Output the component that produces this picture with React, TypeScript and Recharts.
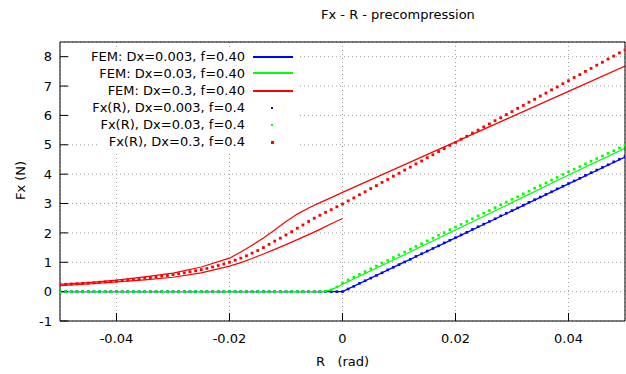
import {
    ComposedChart,
    Line,
    XAxis,
    YAxis,
    CartesianGrid,
} from "recharts";

// axis ticks
const xTicks = [-0.04, -0.02, 0, 0.02, 0.04];
const yTicks = [-1, 0, 1, 2, 3, 4, 5, 6, 7, 8];

// FEM curves (R in rad, Fx in N)
const femBlueR = [-0.05, 0, 0.01, 0.02, 0.03, 0.04, 0.05];
const femBlueF = [0, 0, 0.92, 1.83, 2.75, 3.67, 4.58];

const femGreenR = [-0.05, -0.004, -0.003, -0.002, -0.001, 0, 0.005, 0.01, 0.02, 0.03, 0.04, 0.05];
const femGreenF = [0, 0, 0.02, 0.07, 0.15, 0.25, 0.71, 1.17, 2.1, 3.03, 3.97, 4.88];

// red one is a loop: lower branch going left, then upper branch going right
const femRedR = [
    0, -0.002, -0.004, -0.006, -0.008, -0.01, -0.012, -0.014, -0.016, -0.018, -0.02,
    -0.025, -0.03, -0.035, -0.04, -0.045, -0.05,
    -0.05, -0.045, -0.04, -0.035, -0.03, -0.025, -0.02, -0.018, -0.016, -0.014, -0.012,
    -0.01, -0.008, -0.006, -0.004, -0.002, 0, 0.01, 0.02, 0.03, 0.04, 0.05,
];
const femRedF = [
    2.49, 2.31, 2.12, 1.94, 1.77, 1.6, 1.44, 1.28, 1.13, 0.99, 0.87,
    0.64, 0.49, 0.4, 0.33, 0.26, 0.2,
    0.25, 0.31, 0.39, 0.5, 0.63, 0.84, 1.14, 1.35, 1.58, 1.83, 2.1,
    2.39, 2.64, 2.85, 3.03, 3.2, 3.38, 4.24, 5.1, 5.96, 6.82, 7.68,
];

// Fx(R) analytic points
const rDots = [
    -0.05, -0.049, -0.048, -0.047, -0.046, -0.045, -0.044, -0.043, -0.042, -0.041,
    -0.04, -0.039, -0.038, -0.037, -0.036, -0.035, -0.034, -0.033, -0.032, -0.031,
    -0.03, -0.029, -0.028, -0.027, -0.026, -0.025, -0.024, -0.023, -0.022, -0.021,
    -0.02, -0.019, -0.018, -0.017, -0.016, -0.015, -0.014, -0.013, -0.012, -0.011,
    -0.01, -0.009, -0.008, -0.007, -0.006, -0.005, -0.004, -0.003, -0.002, -0.001,
    0,
    0.001, 0.002, 0.003, 0.004, 0.005, 0.006, 0.007, 0.008, 0.009, 0.01,
    0.011, 0.012, 0.013, 0.014, 0.015, 0.016, 0.017, 0.018, 0.019, 0.02,
    0.021, 0.022, 0.023, 0.024, 0.025, 0.026, 0.027, 0.028, 0.029, 0.03,
    0.031, 0.032, 0.033, 0.034, 0.035, 0.036, 0.037, 0.038, 0.039, 0.04,
    0.041, 0.042, 0.043, 0.044, 0.045, 0.046, 0.047, 0.048, 0.049, 0.05,
];
const blueDots = [
    0, 0, 0, 0, 0, 0, 0, 0, 0, 0,
    0, 0, 0, 0, 0, 0, 0, 0, 0, 0,
    0, 0, 0, 0, 0, 0, 0, 0, 0, 0,
    0, 0, 0, 0, 0, 0, 0, 0, 0, 0,
    0, 0, 0, 0, 0, 0, 0, 0, 0, 0,
    0,
    0.09, 0.18, 0.28, 0.37, 0.46, 0.55, 0.64, 0.74, 0.83, 0.92,
    1.01, 1.1, 1.2, 1.29, 1.38, 1.47, 1.56, 1.66, 1.75, 1.84,
    1.93, 2.02, 2.12, 2.21, 2.3, 2.39, 2.48, 2.58, 2.67, 2.76,
    2.85, 2.94, 3.04, 3.13, 3.22, 3.31, 3.4, 3.5, 3.59, 3.68,
    3.77, 3.86, 3.96, 4.05, 4.14, 4.23, 4.32, 4.42, 4.51, 4.6,
];
const greenDots = [
    0, 0, 0, 0, 0, 0, 0, 0, 0, 0,
    0, 0, 0, 0, 0, 0, 0, 0, 0, 0,
    0, 0, 0, 0, 0, 0, 0, 0, 0, 0,
    0, 0, 0, 0, 0, 0, 0, 0, 0, 0,
    0, 0, 0, 0, 0, 0, 0, 0.01, 0.06, 0.16,
    0.3,
    0.4, 0.49, 0.59, 0.68, 0.78, 0.87, 0.97, 1.06, 1.16, 1.25,
    1.35, 1.44, 1.54, 1.63, 1.73, 1.82, 1.92, 2.01, 2.11, 2.2,
    2.29, 2.39, 2.48, 2.58, 2.67, 2.76, 2.86, 2.95, 3.05, 3.14,
    3.23, 3.33, 3.42, 3.52, 3.61, 3.7, 3.8, 3.89, 3.99, 4.08,
    4.17, 4.26, 4.35, 4.44, 4.53, 4.62, 4.71, 4.8, 4.89, 4.98,
];
const redDots = [
    0.24, 0.25, 0.26, 0.27, 0.28, 0.29, 0.3, 0.32, 0.33, 0.34,
    0.36, 0.38, 0.39, 0.41, 0.43, 0.46, 0.48, 0.5, 0.53, 0.55,
    0.58, 0.61, 0.64, 0.68, 0.71, 0.75, 0.79, 0.84, 0.89, 0.94,
    1.0, 1.07, 1.14, 1.22, 1.31, 1.4, 1.5, 1.61, 1.72, 1.82,
    1.93, 2.04, 2.16, 2.27, 2.39, 2.5, 2.6, 2.7, 2.79, 2.89,
    2.98,
    3.09, 3.19, 3.3, 3.4, 3.51, 3.61, 3.72, 3.82, 3.93, 4.03,
    4.14, 4.24, 4.35, 4.45, 4.56, 4.66, 4.77, 4.87, 4.98, 5.08,
    5.19, 5.29, 5.4, 5.5, 5.61, 5.71, 5.82, 5.92, 6.03, 6.13,
    6.24, 6.34, 6.45, 6.55, 6.66, 6.76, 6.87, 6.97, 7.08, 7.18,
    7.29, 7.39, 7.5, 7.6, 7.71, 7.81, 7.92, 8.02, 8.13, 8.23,
];

const legendLabels = [
    "FEM: Dx=0.003, f=0.40",
    "FEM: Dx=0.03, f=0.40",
    "FEM: Dx=0.3, f=0.40",
    "Fx(R), Dx=0.003, f=0.4",
    "Fx(R), Dx=0.03, f=0.4",
    "Fx(R), Dx=0.3, f=0.4",
];
const legendColors = ["#0000ff", "#00ff00", "#ff0000", "#0000ff", "#00ff00", "#ff0000"];

const toRows = (rs: number[], fs: number[]) => rs.map((r, i) => ({ r, v: fs[i] }));
const femBlue = toRows(femBlueR, femBlueF);
const femGreen = toRows(femGreenR, femGreenF);
const femRed = toRows(femRedR, femRedF);
const dotTable = rDots.map((r, i) => ({ r, b: blueDots[i], g: greenDots[i], red: redDots[i] }));

const FONT = "'DejaVu Sans', sans-serif";

const square = (color: string, s: number) => (p: any) => (
    <rect
        key={`sq-${color}-${p.index}`}
        x={p.cx - s / 2}
        y={p.cy - s / 2}
        width={s}
        height={s}
        fill={color}
    />
);

export default function App() {
    const axisTick = { fontSize: 13, fill: "#000", fontFamily: FONT };

    return (
        <div style={{ position: "absolute", left: 0, top: 0, width: 626, height: 374, background: "#fff", fontFamily: FONT }}>
            <ComposedChart width={626} height={374} margin={{ top: 41, right: 0, bottom: 0, left: 0 }}>
                <CartesianGrid stroke="#a0a0a0" strokeDasharray="1 3" />

                <XAxis
                    type="number"
                    dataKey="r"
                    domain={[-0.05, 0.05]}
                    ticks={xTicks}
                    interval={0}
                    allowDataOverflow
                    height={53}
                    tickSize={-8}
                    tickMargin={21}
                    tick={axisTick}
                    stroke="#000"
                />
                <XAxis
                    xAxisId="top"
                    orientation="top"
                    type="number"
                    dataKey="r"
                    domain={[-0.05, 0.05]}
                    ticks={xTicks}
                    interval={0}
                    allowDataOverflow
                    height={1}
                    tickSize={-8}
                    tick={false}
                    stroke="#000"
                />
                <YAxis
                    type="number"
                    domain={[-1, 8.5]}
                    ticks={yTicks}
                    interval={0}
                    allowDataOverflow
                    width={60}
                    tickSize={-8}
                    tickMargin={16}
                    tick={axisTick}
                    stroke="#000"
                />
                <YAxis
                    yAxisId="right"
                    orientation="right"
                    type="number"
                    domain={[-1, 8.5]}
                    ticks={yTicks}
                    interval={0}
                    allowDataOverflow
                    width={1}
                    tickSize={-8}
                    tick={false}
                    stroke="#000"
                />

                <Line data={femBlue} dataKey="v" type="linear" stroke="#0000ff" strokeWidth={1.2} dot={false} isAnimationActive={false} />
                <Line data={femGreen} dataKey="v" type="linear" stroke="#00ff00" strokeWidth={1.2} dot={false} isAnimationActive={false} />
                <Line data={femRed} dataKey="v" type="linear" stroke="#ff0000" strokeWidth={1.2} dot={false} isAnimationActive={false} />

                <Line data={dotTable} dataKey="b" stroke="none" dot={square("#0000ff", 2.6)} activeDot={false} isAnimationActive={false} />
                <Line data={dotTable} dataKey="g" stroke="none" dot={square("#00ff00", 2.6)} activeDot={false} isAnimationActive={false} />
                <Line data={dotTable} dataKey="red" stroke="none" dot={square("#ff0000", 2.8)} activeDot={false} isAnimationActive={false} />
            </ComposedChart>

            {/* title + axis labels */}
            <div style={{ position: "absolute", left: 321, top: 6, fontSize: 13, lineHeight: "17px", color: "#000", whiteSpace: "pre" }}>
                Fx - R - precompression
            </div>
            <div style={{ position: "absolute", left: 316, top: 353, fontSize: 13, lineHeight: "17px", color: "#000", whiteSpace: "pre" }}>
                {"R   (rad)"}
            </div>
            <div style={{ position: "absolute", left: -10, top: 172, width: 60, height: 17, fontSize: 13, lineHeight: "17px", color: "#000", textAlign: "center", transform: "rotate(-90deg)", whiteSpace: "pre" }}>
                Fx (N)
            </div>

            {/* opaque key box like gnuplot */}
            <div style={{ position: "absolute", left: 69, top: 49, width: 231, height: 89, background: "#fff" }} />
            <div style={{ position: "absolute", left: 97, top: 138, width: 203, height: 14, background: "#fff" }} />
            {legendLabels.map((label, i) => {
                const cy = 56.8 + i * 17;
                const isDot = i >= 3;
                const s = i === 5 ? 3 : 2.4;
                // keep sample lines on even rows, 2px tall
                const lineTop = Math.floor(cy / 2) * 2;
                return (
                    <div key={label}>
                        <div style={{ position: "absolute", left: 62, top: cy - 8.5, width: 183, height: 17, lineHeight: "17px", fontSize: 13, color: "#000", textAlign: "right", whiteSpace: "pre" }}>
                            {label}
                        </div>
                        {isDot ? (
                            <div style={{ position: "absolute", left: 272 - s / 2, top: Math.round(cy) - s / 2, width: s, height: s, background: legendColors[i] }} />
                        ) : (
                            <div style={{ position: "absolute", left: 253, top: lineTop, width: 40, height: 2, background: legendColors[i] }} />
                        )}
                    </div>
                );
            })}
        </div>
    );
}
